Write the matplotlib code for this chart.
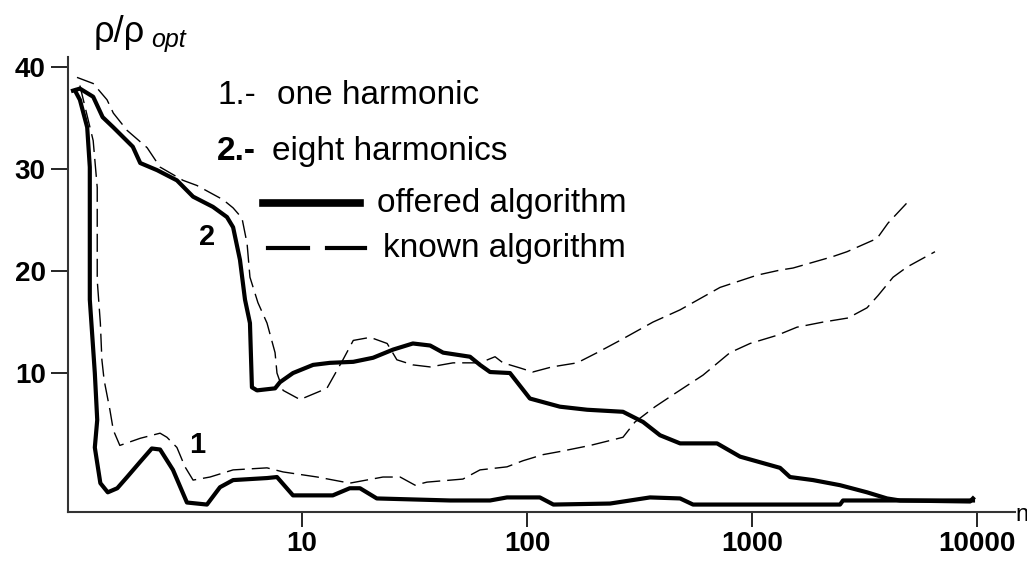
import matplotlib
matplotlib.use('Agg')
import matplotlib.pyplot as plt

# offered algorithm, eight harmonics (curve 2)
off8_n = [0.96, 1.03, 1.18, 1.30, 1.45, 1.77, 1.91, 2.27, 2.78, 3.28, 4.02,
          4.64, 4.94, 5.30, 5.58, 5.87, 5.99, 6.31, 7.59, 7.98, 9.12, 11.2,
          13.3, 16.9, 20.7, 25.4, 31.1, 37.1, 42.4, 55.8, 61.8, 68.5, 84.0,
          103, 140, 185, 267, 328, 390, 479, 699, 885, 1332, 1475, 1867,
          2461, 3245, 3981, 4548, 9311, 9594]
off8_r = [37.7, 37.9, 37.1, 35.1, 34.1, 32.2, 30.6, 29.9, 28.9, 27.3, 26.3,
          25.3, 24.3, 21.1, 17.2, 14.9, 8.6, 8.3, 8.5, 9.1, 10.0, 10.8,
          11.0, 11.1, 11.5, 12.3, 12.9, 12.7, 12.0, 11.6, 10.8, 10.1, 10.0,
          7.5, 6.7, 6.4, 6.2, 5.2, 3.9, 3.1, 3.1, 1.8, 0.7, -0.2, -0.5,
          -1.0, -1.7, -2.3, -2.5, -2.6, -2.3]

# offered algorithm, one harmonic (curve 1)
off1_n = [0.98, 1.03, 1.11, 1.14, 1.14, 1.14, 1.20, 1.23, 1.20, 1.27, 1.37,
          1.51, 1.67, 1.91, 2.15, 2.34, 2.67, 3.08, 3.78, 4.32, 4.94, 6.99,
          7.74, 9.12, 13.7, 16.3, 18.1, 21.5, 45.5, 68.5, 81.5, 114, 131,
          234, 352, 479, 547, 2461, 2537, 9594]
off1_r = [37.7, 36.8, 34.1, 30.2, 25.0, 17.2, 10.0, 5.4, 2.7, -0.8, -1.7,
          -1.3, -0.2, 1.3, 2.6, 2.5, 0.5, -2.7, -2.9, -1.2, -0.5, -0.3,
          -0.2, -2.0, -2.0, -1.3, -1.3, -2.3, -2.5, -2.5, -2.2, -2.2, -2.9,
          -2.8, -2.2, -2.3, -2.9, -2.9, -2.5, -2.5]

# known algorithm, eight harmonics
known8_n = [1.0, 1.18, 1.36, 1.45, 1.67, 2.05, 2.34, 2.96, 3.41, 4.46, 4.94,
            5.41, 5.70, 5.87, 6.37, 6.99, 7.59, 7.74, 8.24, 9.80, 12.9,
            15.2, 16.9, 20.1, 23.9, 26.4, 31.1, 37.1, 46.9, 61.8, 72.1,
            78.2, 93.1, 106, 129, 167, 205, 259, 363, 479, 721, 1053, 1332,
            1521, 2268, 2643, 3594, 4020, 4887]
known8_r = [39.0, 38.4, 36.8, 35.5, 33.8, 32.1, 30.2, 28.9, 28.4, 27.0, 26.2,
            25.2, 22.7, 19.4, 16.9, 14.9, 12.0, 10.0, 8.3, 7.4, 8.5,
            11.3, 13.2, 13.5, 12.9, 11.3, 10.8, 10.6, 11.0, 11.0, 11.6,
            11.0, 10.5, 10.1, 10.6, 11.0, 12.0, 13.2, 15.0, 16.2, 18.4,
            19.6, 20.1, 20.3, 21.4, 21.9, 23.2, 24.7, 26.7]

# known algorithm, one harmonic
known1_n = [1.03, 1.18, 1.23, 1.23, 1.27, 1.29, 1.32, 1.40, 1.45, 1.55, 1.91,
            2.34, 2.51, 2.78, 3.02, 3.28, 3.90, 4.94, 6.99, 8.24, 11.7,
            16.3, 22.9, 27.3, 31.8, 35.9, 51.9, 61.8, 81.5, 96.0, 118, 140,
            191, 267, 302, 371, 455, 606, 798, 980, 1292, 1585, 2069, 2671,
            3245, 3631, 4236, 4887, 6503]
known1_r = [38.2, 32.8, 28.2, 19.1, 14.9, 11.3, 9.3, 6.4, 4.4, 2.9, 3.6,
            4.1, 3.7, 2.7, 0.8, -0.5, -0.2, 0.5, 0.7, 0.3, -0.2,
            -0.8, -0.2, -0.2, -1.0, -0.7, -0.4, 0.5, 0.8, 1.4, 2.0, 2.3,
            2.9, 3.7, 5.2, 6.7, 8.0, 9.8, 12.0, 12.9, 13.7, 14.5, 15.0, 15.4,
            16.4, 17.6, 19.4, 20.4, 21.9]

x_ticks = [10, 100, 1000, 10000]
x_labels = ['10', '100', '1000', '10000']
y_ticks = [10, 20, 30, 40]
y_labels = ['10', '20', '30', '40']

FONT = 'Liberation Sans'
W, H = 1027, 563

fig = plt.figure(figsize=(W / 100., H / 100.), dpi=100)
ax = fig.add_axes([68. / W, 1 - 512. / H, 947. / W, 455. / H])

ax.plot(known8_n, known8_r, color='black', lw=1.0, dashes=(13, 5))
ax.plot(known1_n, known1_r, color='black', lw=1.0, dashes=(13, 5))
ax.plot(off8_n, off8_r, color='black', lw=3.0, solid_joinstyle='round')
ax.plot(off1_n, off1_r, color='black', lw=3.0, solid_joinstyle='round')

ax.set_xscale('log')
ax.set_xlim(0.912, 14750)
ax.set_ylim(-3.63, 41.0)
ax.set_xticks(x_ticks)
ax.set_xticklabels(x_labels)
ax.set_yticks(y_ticks)
ax.set_yticklabels(y_labels)
ax.minorticks_off()
for lab in ax.get_xticklabels() + ax.get_yticklabels():
    lab.set_family(FONT)
    lab.set_weight('bold')
    lab.set_fontsize(20)
ax.tick_params(axis='y', length=12, width=1.2, pad=4)
ax.tick_params(axis='x', length=11, width=1.2, pad=3)
for s in ['top', 'right']:
    ax.spines[s].set_visible(False)
for s in ['left', 'bottom']:
    ax.spines[s].set_linewidth(1.5)
    ax.spines[s].set_color('#333333')

# axis labels
fig.text(94. / W, 1 - 42. / H, u'\u03c1/\u03c1', family=FONT, fontsize=26,
         ha='left', va='baseline')
fig.text(151. / W, 1 - 47. / H, 'opt', family=FONT, fontsize=18,
         style='italic', ha='left', va='baseline')
fig.text(1015. / W, 1 - 521. / H, 'n', family=FONT, fontsize=17,
         ha='left', va='baseline')

# legend texts
fig.text(218. / W, 1 - 104. / H, '1.-', family=FONT, fontsize=24,
         ha='left', va='baseline')
fig.text(277. / W, 1 - 104. / H, 'one harmonic', family=FONT, fontsize=24,
         ha='left', va='baseline')
fig.text(217. / W, 1 - 160. / H, '2.-', family=FONT, fontsize=24,
         weight='bold', ha='left', va='baseline')
fig.text(272. / W, 1 - 160. / H, 'eight harmonics', family=FONT,
         fontsize=24, ha='left', va='baseline')
fig.text(377. / W, 1 - 212. / H, 'offered algorithm', family=FONT,
         fontsize=24, ha='left', va='baseline')
fig.text(383. / W, 1 - 257. / H, 'known algorithm', family=FONT,
         fontsize=24, ha='left', va='baseline')
fig.add_artist(plt.Line2D([263. / W, 360. / W], [1 - 203. / H, 1 - 203. / H],
                          color='black', lw=5.5))
fig.add_artist(plt.Line2D([268. / W, 308. / W], [1 - 248. / H, 1 - 248. / H],
                          color='black', lw=3))
fig.add_artist(plt.Line2D([327. / W, 365. / W], [1 - 248. / H, 1 - 248. / H],
                          color='black', lw=3))

# curve labels
ax.text(3.78, 23.3, '2', family=FONT, fontsize=21, weight='bold',
        ha='center', va='center')
ax.text(3.41, 2.9, '1', family=FONT, fontsize=21, weight='bold',
        ha='center', va='center')

fig.savefig('out.png', dpi=100)
